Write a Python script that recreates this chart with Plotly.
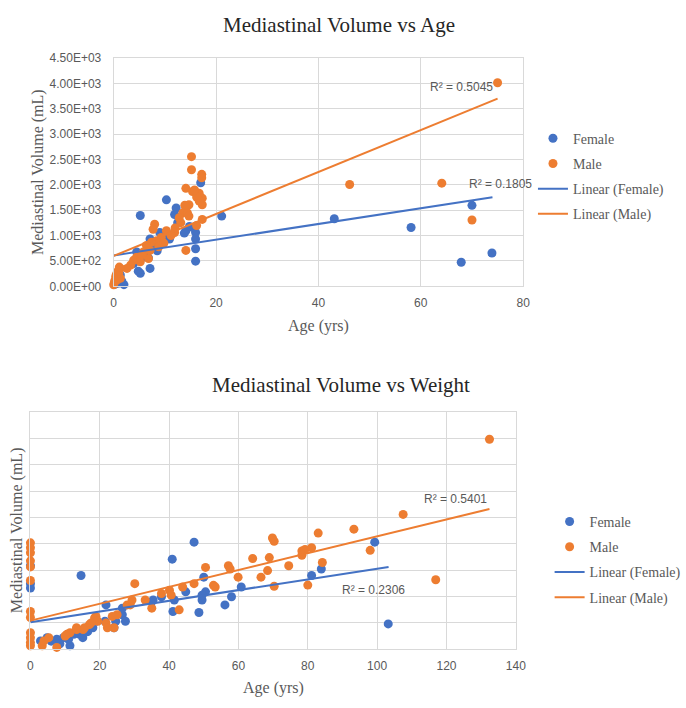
import plotly.graph_objects as go

# ---------------- data: Volume vs Age ----------------
age_female = [5.2, 10.3, 12.2, 11.9, 10.6, 9.0, 7.1, 7.7, 7.1, 5.2, 2.0, 1.3, 17.0, 16.0, 16.0, 16.0, 16.0,
              21.1, 14.1, 12.5, 10.9, 5.8, 4.5, 3.9, 6.3, 1.0, 0.5, 0.2, 9.6, 14.8, 15.5, 13.8, 8.5, 6.8,
              4.8, 1.6, 0.8, 43.1, 58.1, 70.0, 67.9, 73.9]
vol_female_age = [1396, 1705, 1545, 1415, 1030, 1062, 933, 805, 354, 257, 33, 226, 2041, 1062, 933, 740, 496,
                  1385, 1095, 1255, 933, 579, 676, 450, 676, 129, 80, 40, 998, 1180, 1160, 1050, 700, 560,
                  300, 100, 60, 1332, 1159, 1597, 476, 657]
age_male = [15.2, 15.2, 17.2, 17.2, 14.1, 15.4, 16.7, 17.3, 17.3, 16.7, 14.7, 14.1, 13.5, 14.4, 12.8, 13.1,
            14.7, 17.3, 14.1, 10.3, 11.9, 8.0, 7.7, 9.3, 8.4, 7.4, 6.4, 7.1, 5.8, 4.5, 6.8, 3.9, 5.2, 3.3,
            2.6, 1.3, 1.0, 0.4, 0.7, 0.1, 0.0, 1.3, 16.2, 15.8, 13.9, 12.0, 11.2, 9.8, 16.2, 8.8, 5.5, 0.5,
            0.8, 1.1, 0.2, 46.1, 64.1, 70.0, 75.0]
vol_male_age = [2555, 2298, 2207, 2140, 1931, 1867, 1834, 1738, 1609, 1680, 1609, 1560, 1448, 1448, 1352, 1255,
                1384, 1319, 708, 1095, 1062, 1223, 1126, 965, 901, 869, 805, 708, 676, 579, 547, 515, 483, 419,
                354, 354, 257, 193, 129, 64, 30, 160, 1760, 1900, 1600, 1150, 1000, 850, 1200, 780, 620, 230,
                300, 380, 110, 2008, 2034, 1307, 4011]
trend_age_female_x = [0, 74]
trend_age_female_y = [610, 1755]
trend_age_male_x = [0, 75]
trend_age_male_y = [600, 3700]
r2_age = ["R² = 0.1805", "R² = 0.5045"]

# ---------------- data: Volume vs Weight ----------------
wt_female = [0, 0, 0, 14.6, 2.9, 4.8, 7.6, 9.5, 11.4, 11.0, 14.2, 15.1, 18.0, 18.9, 21.8, 21.5, 24.6, 26.5,
             27.4, 26.5, 24.1, 35.0, 37.8, 35.4, 40.9, 47.2, 41.1, 48.6, 50.0, 50.5, 49.5, 56.1, 58.0, 60.8,
             81.1, 41.5, 44.8, 49.5, 83.9, 99.3, 103.2, 6.0, 8.5, 12.5, 16.5]
vol_female_wt = [1583, 1240, 1160, 1397, 155, 217, 186, 217, 62, 186, 279, 217, 404, 527, 838, 527, 527, 652,
                 527, 776, 404, 900, 993, 931, 1707, 2030, 714, 695, 1365, 1086, 931, 838, 993, 1179,
                 1397, 931, 1086, 1024, 1521, 2030, 478, 150, 100, 280, 330]
wt_male = [0, 0, 0, 0, 0, 0, 0, 0, 0, 0, 0, 0, 3.4, 3.9, 5.3, 7.6, 10.5, 11.4, 13.3, 15.6, 17.0, 18.5, 18.9,
           21.8, 23.6, 24.1, 22.2, 19.4, 17.5, 15.2, 13.3, 10.0, 25.0, 28.8, 27.9, 30.1, 33.1, 35.0, 29.3,
           37.8, 40.1, 40.6, 42.9, 43.9, 47.2, 50.5, 52.8, 53.3, 57.1, 57.6, 59.9, 64.1, 66.5, 68.4, 68.9,
           69.8, 70.3, 70.3, 74.5, 78.3, 79.2, 81.1, 83.0, 80.0, 93.3, 98.0, 84.2, 116.9, 78.3, 107.5, 132.4]
vol_male_wt = [2017, 1924, 1830, 1676, 1560, 1303, 713, 600, 310, 217, 124, 62, 62, 155, 217, 31, 279, 310,
               404, 404, 465, 590, 620, 497, 620, 404, 404, 527, 497, 372, 372, 248, 652, 838, 838, 1242,
               931, 776, 931, 1055, 1117, 1024, 745, 1179, 1242, 1551, 1210, 1179, 1583, 1521, 1365, 1719,
               1365, 1490, 1737, 2110, 2048, 1192, 1583, 1862, 1893, 1924, 2203, 1215, 2277, 1875, 1644,
               1316, 1782, 2557, 3985]
trend_wt_female_x = [0, 103.3]
trend_wt_female_y = [510, 1560]
trend_wt_male_x = [0, 132.4]
trend_wt_male_y = [540, 2660]
r2_wt = ["R² = 0.2306", "R² = 0.5401"]

y_ticks = [0, 500, 1000, 1500, 2000, 2500, 3000, 3500, 4000, 4500]
y_ticktext = [f"{v:.2E}" for v in y_ticks]

# ---------------- styling ----------------
W, H = 686, 708
BLUE = "#4472C4"
ORANGE = "#ED7D31"
GRID = "#D9D9D9"
GRAY = "#595959"
SERIF = "Liberation Serif, Times New Roman, serif"
SANS = "Liberation Sans, Arial, sans-serif"


def px_x(p):
    return p / W


def px_y(p):
    return (H - p) / H


fig = go.Figure()

# top chart
fig.add_trace(go.Scatter(x=age_female, y=vol_female_age, mode="markers", name="Female",
                         marker=dict(color=BLUE, size=9), xaxis="x", yaxis="y", cliponaxis=False,
                         legend="legend", legendgroup="a1"))
fig.add_trace(go.Scatter(x=age_male, y=vol_male_age, mode="markers", name="Male",
                         marker=dict(color=ORANGE, size=9), xaxis="x", yaxis="y", cliponaxis=False,
                         legend="legend", legendgroup="a2"))
fig.add_trace(go.Scatter(x=trend_age_female_x, y=trend_age_female_y, mode="lines", name="Linear (Female)",
                         line=dict(color=BLUE, width=2), xaxis="x", yaxis="y",
                         legend="legend", legendgroup="a3"))
fig.add_trace(go.Scatter(x=trend_age_male_x, y=trend_age_male_y, mode="lines", name="Linear (Male)",
                         line=dict(color=ORANGE, width=2), xaxis="x", yaxis="y",
                         legend="legend", legendgroup="a4"))

# bottom chart
fig.add_trace(go.Scatter(x=wt_female, y=vol_female_wt, mode="markers", name="Female",
                         marker=dict(color=BLUE, size=9), xaxis="x2", yaxis="y2", cliponaxis=False,
                         legend="legend2", legendgroup="b1"))
fig.add_trace(go.Scatter(x=wt_male, y=vol_male_wt, mode="markers", name="Male",
                         marker=dict(color=ORANGE, size=9), xaxis="x2", yaxis="y2", cliponaxis=False,
                         legend="legend2", legendgroup="b2"))
fig.add_trace(go.Scatter(x=trend_wt_female_x, y=trend_wt_female_y, mode="lines", name="Linear (Female)",
                         line=dict(color=BLUE, width=2), xaxis="x2", yaxis="y2",
                         legend="legend2", legendgroup="b3"))
fig.add_trace(go.Scatter(x=trend_wt_male_x, y=trend_wt_male_y, mode="lines", name="Linear (Male)",
                         line=dict(color=ORANGE, width=2), xaxis="x2", yaxis="y2",
                         legend="legend2", legendgroup="b4"))

axis_common = dict(showgrid=True, gridcolor=GRID, gridwidth=1, zeroline=False, showline=True,
                   linecolor=GRID, linewidth=1, mirror=True, ticks="",
                   tickfont=dict(family=SANS, size=12, color=GRAY))

legend_common = dict(font=dict(family=SERIF, size=14, color=GRAY), bgcolor="rgba(0,0,0,0)",
                     borderwidth=0, tracegroupgap=4, itemwidth=30, xanchor="left", yanchor="top")

fig.update_layout(
    width=W, height=H,
    margin=dict(l=0, r=0, t=0, b=0),
    paper_bgcolor="white", plot_bgcolor="white",
    xaxis=dict(domain=[px_x(113), px_x(531)], range=[0, 80], tickvals=[0, 20, 40, 60, 80],
               anchor="y", ticklabelstandoff=5, **axis_common),
    yaxis=dict(domain=[px_y(285), px_y(52)], range=[0, 4500], tickvals=y_ticks, ticktext=y_ticktext,
               anchor="x", ticklabelstandoff=9, **axis_common),
    xaxis2=dict(domain=[px_x(28), px_x(523.5)], range=[0, 140],
                tickvals=[0, 20, 40, 60, 80, 100, 120, 140], anchor="y2", ticklabelstandoff=6,
                **axis_common),
    yaxis2=dict(domain=[px_y(655), px_y(413.3)], range=[0, 4500], tickvals=y_ticks,
                showticklabels=False, anchor="x2", **axis_common),
    legend=dict(x=px_x(541), y=px_y(118), **legend_common),
    legend2=dict(x=px_x(558), y=px_y(509), **legend_common),
    showlegend=True,
)

annotations = [
    dict(text="Mediastinal Volume vs Age", x=px_x(343), y=px_y(18), xref="paper", yref="paper",
         showarrow=False, xanchor="center", yanchor="middle",
         font=dict(family=SERIF, size=21, color="#262626")),
    dict(text="Mediastinal Volume vs Weight", x=px_x(345), y=px_y(386), xref="paper", yref="paper",
         showarrow=False, xanchor="center", yanchor="middle",
         font=dict(family=SERIF, size=21, color="#262626")),
    dict(text="Mediastinal Volume (mL)", x=px_x(35), y=px_y(168), xref="paper", yref="paper",
         showarrow=False, textangle=-90, xanchor="center", yanchor="middle",
         font=dict(family=SERIF, size=16, color=GRAY)),
    dict(text="Mediastinal Volume (mL)", x=px_x(15), y=px_y(534), xref="paper", yref="paper",
         showarrow=False, textangle=-90, xanchor="center", yanchor="middle",
         font=dict(family=SERIF, size=16, color=GRAY)),
    dict(text="Age (yrs)", x=px_x(322), y=px_y(325), xref="paper", yref="paper",
         showarrow=False, xanchor="center", yanchor="middle",
         font=dict(family=SERIF, size=16, color=GRAY)),
    dict(text="Age (yrs)", x=px_x(276), y=px_y(695), xref="paper", yref="paper",
         showarrow=False, xanchor="center", yanchor="middle",
         font=dict(family=SERIF, size=16, color=GRAY)),
    # R² labels in data coordinates
    dict(text=r2_age[1], x=74.5, y=3926, xref="x", yref="y", showarrow=False,
         xanchor="right", yanchor="middle", font=dict(family=SANS, size=12, color=GRAY)),
    dict(text=r2_age[0], x=69.1, y=2008, xref="x", yref="y", showarrow=False,
         xanchor="left", yanchor="middle", font=dict(family=SANS, size=12, color=GRAY)),
    dict(text=r2_wt[1], x=132.4, y=2854, xref="x2", yref="y2", showarrow=False,
         xanchor="right", yanchor="middle", font=dict(family=SANS, size=12, color=GRAY)),
    dict(text=r2_wt[0], x=89.4, y=1117, xref="x2", yref="y2", showarrow=False,
         xanchor="left", yanchor="middle", font=dict(family=SANS, size=12, color=GRAY)),
]
fig.update_layout(annotations=annotations)

fig.write_html("out.html")
